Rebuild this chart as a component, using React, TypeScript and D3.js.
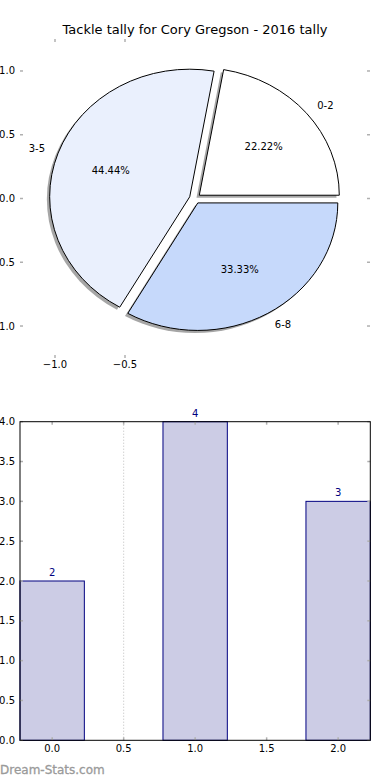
import React from 'react';
import * as d3 from 'd3';

const sliceLabels = ['0-2', '3-5', '6-8'];
const sliceValues = [2, 4, 3];
const sliceColors = ['#ffffff', '#eaf0fd', '#c6d9fb'];
const pieTicks = [-1.0, -0.5, 0.0, 0.5, 1.0];
const pieXTicks = [-1.0, -0.5];

const barX = [0, 1, 2];
const barValues = [2, 4, 3];
const barXTicks = [0.0, 0.5, 1.0, 1.5, 2.0];
const barYTicks = [0.0, 0.5, 1.0, 1.5, 2.0, 2.5, 3.0, 3.5, 4.0];

const title = 'Tackle tally for Cory Gregson - 2016 tally';
const explode = 0.04;
const font = 'DejaVu Sans, sans-serif';
const fmt = (v: number) => (v < 0 ? '\u2212' : '') + Math.abs(v).toFixed(1);

const App = () => {
  // pie axes
  const px = d3.scaleLinear().domain([-1.25, 1.25]).range([20, 370]);
  const py = d3.scaleLinear().domain([-1.25, 1.25]).range([357.9, 39.1]);
  const sx = px(1) - px(0);
  const sy = py(0) - py(1);

  const pie = d3.pie<number>().sort(null).value(d => d)
    .startAngle(Math.PI / 2).endAngle(Math.PI / 2 - 2 * Math.PI);
  const arcs = pie(sliceValues);
  const arc = d3.arc<d3.PieArcDatum<number>>().innerRadius(0).outerRadius(1);
  const total = d3.sum(sliceValues);

  // bar axes
  const bx = d3.scaleLinear().domain([-0.225, 2.225]).range([20, 370.3]);
  const by = d3.scaleLinear().domain([0, 4]).range([740.3, 421.7]);
  const bw = 0.45;

  const tickColor = '#b0b0b0';

  return (
    <svg width={390} height={780} style={{ position: 'absolute', left: 0, top: 0, background: '#fff' }}
      fontFamily={font}>
      <text x={195} y={34} textAnchor="middle" fontSize={13} fill="#000">{title}</text>

      {/* pie ticks */}
      {pieTicks.map(t => (
        <g key={'py' + t}>
          <line x1={20} x2={23} y1={py(t)} y2={py(t)} stroke={tickColor} strokeWidth={1.5} />
          <line x1={367} x2={370} y1={py(t)} y2={py(t)} stroke={tickColor} strokeWidth={1.5} />
          <text x={15} y={py(t)} dy="0.35em" textAnchor="end" fontSize={10}>{fmt(t)}</text>
        </g>
      ))}
      {pieXTicks.map(t => (
        <g key={'px' + t}>
          <line x1={px(t)} x2={px(t)} y1={39.1} y2={42.1} stroke={tickColor} strokeWidth={1.5} />
          <line x1={px(t)} x2={px(t)} y1={354.9} y2={357.9} stroke={tickColor} strokeWidth={1.5} />
          <text x={px(t)} y={368} textAnchor="middle" fontSize={10}>{fmt(t)}</text>
        </g>
      ))}

      {/* shadows */}
      {arcs.map((a, i) => {
        const m = (a.startAngle + a.endAngle) / 2;
        const cx = px(explode * Math.sin(m) - 0.02);
        const cy = py(explode * Math.cos(m) - 0.02);
        return (
          <path key={'s' + i} d={arc(a) || ''} transform={`translate(${cx},${cy}) scale(${sx},${sy})`}
            fill="#4d4d4d" fillOpacity={0.5} stroke="none" />
        );
      })}
      {/* slices */}
      {arcs.map((a, i) => {
        const m = (a.startAngle + a.endAngle) / 2;
        const ox = explode * Math.sin(m);
        const oy = explode * Math.cos(m);
        const lx = ox + 1.1 * Math.sin(m);
        const ly = oy + 1.1 * Math.cos(m);
        const tx = ox + 0.6 * Math.sin(m);
        const ty = oy + 0.6 * Math.cos(m);
        return (
          <g key={'p' + i}>
            <path d={arc(a) || ''} transform={`translate(${px(ox)},${py(oy)}) scale(${sx},${sy})`}
              fill={sliceColors[i]} stroke="#000" strokeWidth={1} vectorEffect="non-scaling-stroke" />
            <text x={px(lx)} y={py(ly)} dy="0.35em" textAnchor={lx > 0 ? 'start' : 'end'} fontSize={10}>
              {sliceLabels[i]}
            </text>
            <text x={px(tx)} y={py(ty)} dy="0.35em" textAnchor="middle" fontSize={10}>
              {((sliceValues[i] / total) * 100).toFixed(2)}%
            </text>
          </g>
        );
      })}

      {/* bar chart */}
      <line x1={bx(0.5)} x2={bx(0.5)} y1={by(4)} y2={by(0)} stroke="#bdbdbd" strokeDasharray="1,2" />
      {barX.map((x, i) => (
        <g key={'b' + i}>
          <rect x={bx(x - bw / 2)} y={by(barValues[i])} width={bx(x + bw / 2) - bx(x - bw / 2)}
            height={by(0) - by(barValues[i])} fill="#ccccE5" stroke="#000080" strokeWidth={1} />
          <text x={bx(x)} y={by(barValues[i]) - 5} textAnchor="middle" fontSize={10} fill="#000080">
            {barValues[i]}
          </text>
        </g>
      ))}
      {barYTicks.map(t => (
        <g key={'by' + t}>
          <line x1={20} x2={23} y1={by(t)} y2={by(t)} stroke={tickColor} strokeWidth={1.5} />
          <line x1={367.3} x2={370.3} y1={by(t)} y2={by(t)} stroke={tickColor} strokeWidth={1.5} />
          <text x={15} y={by(t)} dy="0.35em" textAnchor="end" fontSize={10}>{fmt(t)}</text>
        </g>
      ))}
      {barXTicks.map(t => (
        <g key={'bx' + t}>
          <line x1={bx(t)} x2={bx(t)} y1={421.7} y2={424.7} stroke={tickColor} strokeWidth={1.5} />
          <line x1={bx(t)} x2={bx(t)} y1={737.3} y2={740.3} stroke={tickColor} strokeWidth={1.5} />
          <text x={bx(t)} y={752} textAnchor="middle" fontSize={10}>{fmt(t)}</text>
        </g>
      ))}
      <rect x={20} y={421.7} width={350.3} height={318.6} fill="none" stroke="#000" strokeWidth={1} />

      <text x={0} y={774} fontSize={12} fill="#9a9a9a" stroke="#9a9a9a" strokeWidth={0.3}>Dream-Stats.com</text>
    </svg>
  );
};

export default App;
